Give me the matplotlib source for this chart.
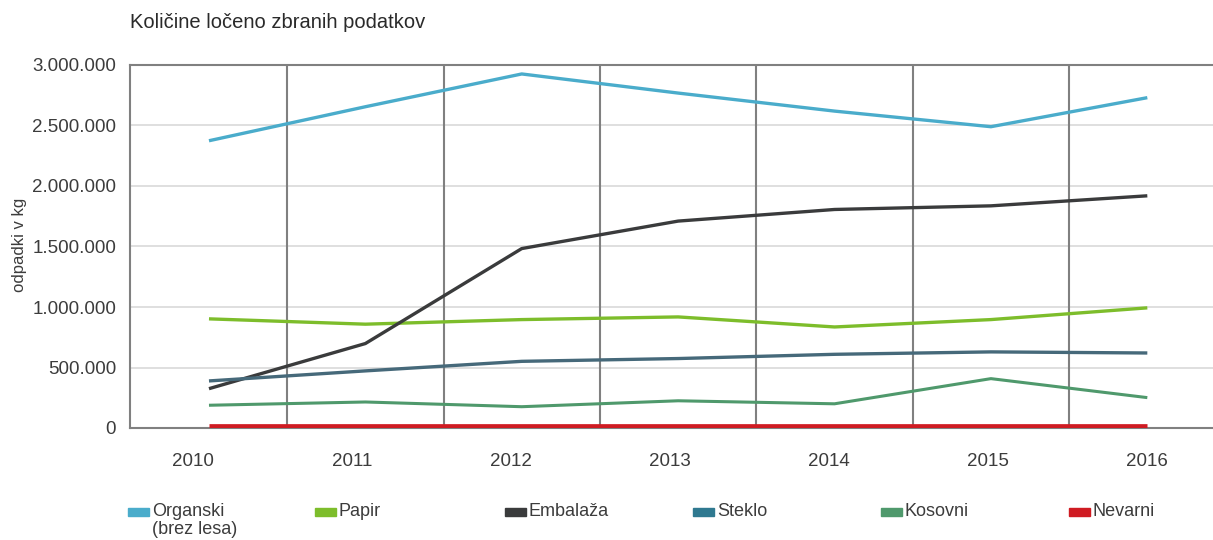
import matplotlib
matplotlib.use("Agg")
import matplotlib.pyplot as plt
from matplotlib.patches import Rectangle

plt.rcParams['font.family'] = ['Liberation Sans Narrow', 'Liberation Sans', 'DejaVu Sans']

years = [2010, 2011, 2012, 2013, 2014, 2015, 2016]
series_names = ["Organski\n(brez lesa)", "Papir", "Embalaža", "Steklo", "Kosovni", "Nevarni"]
organski = [2374000, 2655000, 2926000, 2768000, 2619000, 2490000, 2730000]
papir = [902000, 858000, 896000, 918000, 835000, 896000, 993000]
embalaza = [325000, 698000, 1483000, 1710000, 1806000, 1836000, 1919000]
steklo = [389000, 472000, 551000, 574000, 609000, 629000, 620000]
kosovni = [188000, 215000, 176000, 225000, 200000, 408000, 251000]
nevarni = [20000, 20000, 20000, 20000, 20000, 20000, 20000]
yticks = [0, 500000, 1000000, 1500000, 2000000, 2500000, 3000000]

colors = ["#4aaccb", "#7dbd2b", "#3a3b3c", "#46697a", "#4f996c", "#cf1b22"]
legend_colors = ["#4aaccb", "#7dbd2b", "#3a3b3c", "#2f7990", "#4f996c", "#cf1b22"]
widths = [2.4, 2.4, 2.4, 2.4, 2.2, 3.4]
data = [organski, papir, embalaza, steklo, kosovni, nevarni]

W, H = 1213, 540
fig = plt.figure(figsize=(W / 100, H / 100), dpi=100)
ax = fig.add_axes([130 / W, 1 - 428 / H, (W - 130) / W, (428 - 65) / H])

ax.set_xlim(2009.495, 2016.42)
ax.set_ylim(0, 3000000)

for y in yticks[1:-1]:
    ax.axhline(y, color="#d9d9d9", lw=1.2, zorder=1)
for i in range(len(years) - 1):
    ax.axvline((years[i] + years[i + 1]) / 2, color="#808080", lw=1.5, zorder=1)

for vals, c, lw in zip(data, colors, widths):
    ax.plot(years, vals, color=c, lw=lw, zorder=3, solid_capstyle="butt")

ax.set_yticks(yticks)
ax.set_yticklabels(["0" if v == 0 else f"{v:,.0f}".replace(",", ".") for v in yticks])
# year labels are spaced slightly wider than the data points in the original
label_pos = [years[-1] - (years[-1] - y) * 159.2 / 156.5 for y in years]
ax.set_xticks(label_pos)
ax.set_xticklabels([str(y) for y in years])
ax.tick_params(axis="y", length=0, pad=10, labelsize=13.5, labelcolor="#3c3c3c")
ax.tick_params(axis="x", length=0, pad=18, labelsize=13.5, labelcolor="#3c3c3c")

for s in ["left", "bottom", "top"]:
    ax.spines[s].set_color("#808080")
    ax.spines[s].set_linewidth(1.5)
ax.spines["right"].set_visible(False)

fig.text(130 / W, 1 - 22 / H, "Količine ločeno zbranih podatkov", fontsize=14.5,
         color="#2a2a2a", ha="left", va="center")
fig.text(20 / W, 1 - 245 / H, "odpadki v kg", fontsize=12, color="#3c3c3c",
         rotation=90, ha="center", va="center")

leg_x = [128, 315, 505, 693, 881, 1069]
for name, c, x in zip(series_names, legend_colors, leg_x):
    fig.patches.append(Rectangle((x / W, 1 - 516 / H), 21 / W, 8 / H,
                                 transform=fig.transFigure, color=c))
    fig.text((x + 24) / W, 1 - 503 / H, name, fontsize=13, color="#3c3c3c",
             ha="left", va="top", linespacing=1.1)

fig.savefig("out.png", dpi=100)
